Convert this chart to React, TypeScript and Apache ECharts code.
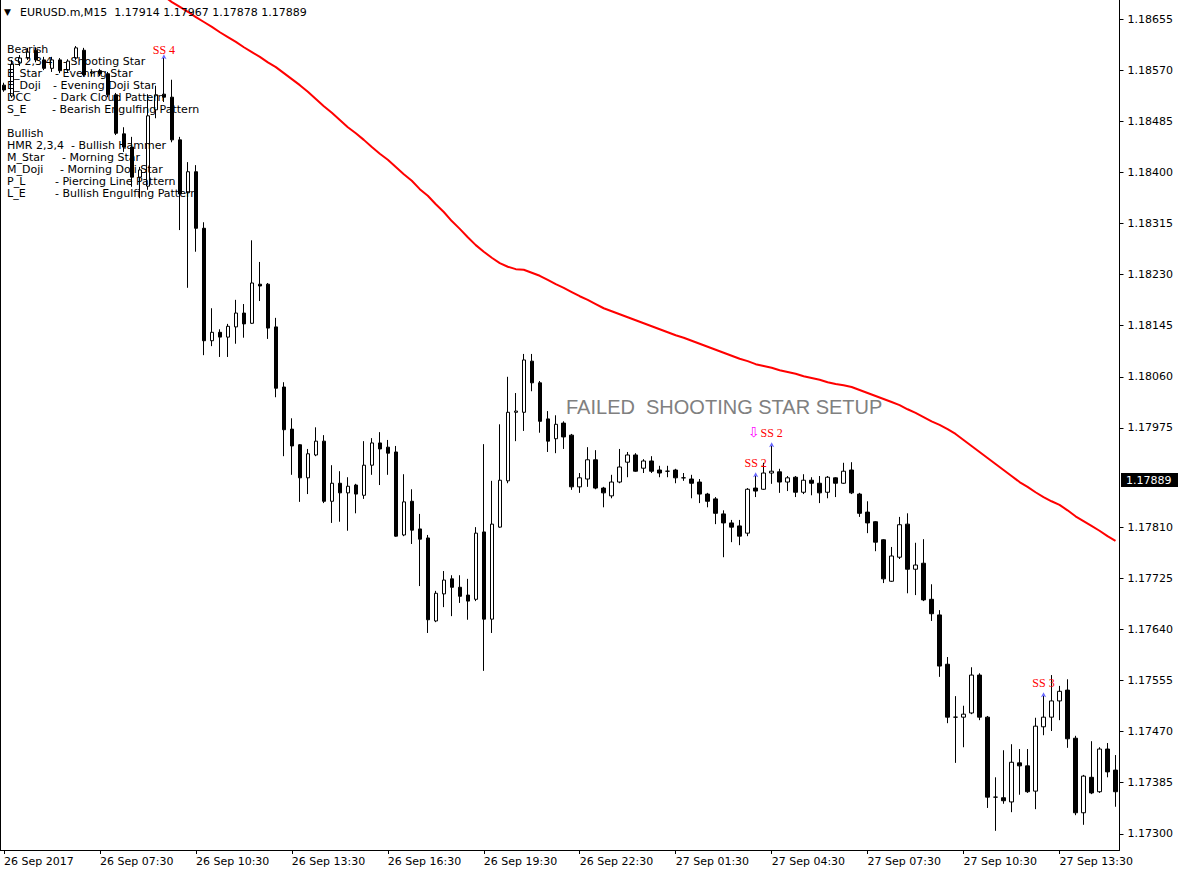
import React, { useEffect, useRef } from "react";
import * as echarts from "echarts";

// ---------- data (EURUSD.m, M15) ----------
const symbolName = "EURUSD.m,M15";
const headerValues = [1.17914, 1.17967, 1.17878, 1.17889];
const currentPrice = 1.17889;

const opens = [
  1.18545, 1.18527, 1.18582, 1.1859, 1.18603, 1.18587, 1.18573, 1.18587, 1.1857, 1.1859,
  1.18603, 1.18565, 1.18569, 1.18564, 1.18529, 1.18464, 1.18442, 1.18392, 1.18377, 1.18504,
  1.1853, 1.18525, 1.18454, 1.18366, 1.18401, 1.18307, 1.1812, 1.18134, 1.18126, 1.18143,
  1.18166, 1.18149, 1.18214, 1.18214, 1.18143, 1.18043, 1.17973, 1.17947, 1.17892, 1.1793,
  1.17953, 1.17853, 1.17883, 1.17867, 1.1788, 1.17863, 1.17913, 1.1795, 1.17943, 1.17935,
  1.17797, 1.17853, 1.17807, 1.17792, 1.17654, 1.17699, 1.17724, 1.1771, 1.17697, 1.1769,
  1.17802, 1.17657, 1.1781, 1.17887, 1.18001, 1.18001, 1.18086, 1.1805, 1.1799, 1.17957,
  1.17983, 1.17963, 1.17877, 1.1789, 1.17922, 1.17875, 1.17862, 1.17885, 1.17918, 1.1793,
  1.17908, 1.1792, 1.17905, 1.17903, 1.17905, 1.17892, 1.1789, 1.17885, 1.17865, 1.17857,
  1.17832, 1.17817, 1.17812, 1.178, 1.17875, 1.17873, 1.179, 1.17902, 1.17885, 1.17893,
  1.17868, 1.17888, 1.17883, 1.17868, 1.17892, 1.17883, 1.17905, 1.17865, 1.17835, 1.17819,
  1.17789, 1.1772, 1.1776, 1.17815, 1.1774, 1.1775, 1.1769, 1.17664, 1.17582, 1.17494,
  1.17494, 1.17501, 1.17564, 1.17494, 1.17361, 1.1736, 1.17353, 1.17418, 1.17413, 1.17371,
  1.17478, 1.17494, 1.17521, 1.17539, 1.17459, 1.17335, 1.17394, 1.1737, 1.17441, 1.17406,
];
const closes = [
  1.18537, 1.1858, 1.1859, 1.186, 1.18587, 1.18573, 1.18587, 1.18569, 1.18585, 1.18607,
  1.18562, 1.18567, 1.18564, 1.18529, 1.18465, 1.18442, 1.18392, 1.18404, 1.18494, 1.18529,
  1.18525, 1.18454, 1.18364, 1.18401, 1.18307, 1.1812, 1.18134, 1.18126, 1.18144, 1.18166,
  1.18148, 1.18216, 1.18211, 1.18141, 1.18041, 1.17972, 1.17945, 1.17892, 1.17932, 1.17953,
  1.17853, 1.17883, 1.17867, 1.17878, 1.17865, 1.17913, 1.1795, 1.1794, 1.17933, 1.17795,
  1.17852, 1.17805, 1.1779, 1.17656, 1.177, 1.17722, 1.1771, 1.17695, 1.17687, 1.178,
  1.17657, 1.17815, 1.17888, 1.18001, 1.18003, 1.18088, 1.1805, 1.17986, 1.17953, 1.17981,
  1.1796, 1.17877, 1.17892, 1.17922, 1.17875, 1.17867, 1.17885, 1.1791, 1.1793, 1.17903,
  1.1792, 1.17903, 1.179, 1.17903, 1.17892, 1.17892, 1.17883, 1.17865, 1.17853, 1.17833,
  1.17817, 1.1781, 1.17795, 1.17873, 1.1787, 1.179, 1.17903, 1.17885, 1.17892, 1.17868,
  1.17888, 1.17883, 1.17867, 1.17893, 1.17883, 1.17903, 1.17867, 1.17833, 1.17817, 1.17785,
  1.17724, 1.17762, 1.17814, 1.1774, 1.17747, 1.17689, 1.17666, 1.17579, 1.17494, 1.17494,
  1.17499, 1.17564, 1.17494, 1.17361, 1.17361, 1.17355, 1.17419, 1.17413, 1.1737, 1.17479,
  1.17494, 1.17521, 1.17537, 1.17458, 1.17335, 1.17396, 1.17368, 1.17441, 1.17403, 1.1737,
];
const highs = [
  1.18549, 1.18587, 1.18595, 1.18607, 1.18608, 1.18592, 1.18592, 1.1859, 1.18588, 1.1861,
  1.18607, 1.1857, 1.18572, 1.18567, 1.18532, 1.18475, 1.18459, 1.18409, 1.1853, 1.18544,
  1.18593, 1.18554, 1.18459, 1.18417, 1.18412, 1.18317, 1.18174, 1.18139, 1.18148, 1.18188,
  1.18181, 1.18287, 1.18251, 1.18216, 1.18158, 1.18051, 1.17991, 1.17948, 1.1794, 1.17976,
  1.17963, 1.17913, 1.17903, 1.17893, 1.17882, 1.17953, 1.17958, 1.17968, 1.17955, 1.17945,
  1.17898, 1.17873, 1.17832, 1.17797, 1.17704, 1.17737, 1.1773, 1.1773, 1.17724, 1.1781,
  1.17948, 1.17887, 1.17981, 1.1806, 1.18033, 1.18098, 1.18098, 1.18053, 1.18003, 1.17996,
  1.17986, 1.17965, 1.179, 1.17943, 1.17938, 1.17877, 1.17897, 1.1794, 1.17935, 1.17933,
  1.17923, 1.17928, 1.17912, 1.17912, 1.17907, 1.179, 1.17897, 1.1789, 1.17867, 1.1786,
  1.17838, 1.17822, 1.17822, 1.17875, 1.17898, 1.17917, 1.17948, 1.17907, 1.17895, 1.17895,
  1.17898, 1.17893, 1.17895, 1.17895, 1.17893, 1.17917, 1.17918, 1.17867, 1.17853, 1.1782,
  1.1779, 1.17777, 1.17827, 1.17833, 1.17784, 1.1779, 1.17715, 1.17672, 1.17594, 1.17529,
  1.17513, 1.17577, 1.17567, 1.17496, 1.17394, 1.17439, 1.17449, 1.17441, 1.17441, 1.17493,
  1.17532, 1.17564, 1.17546, 1.17557, 1.17463, 1.17398, 1.17454, 1.17444, 1.17451, 1.17431,
];
const lows = [
  1.18534, 1.18524, 1.18577, 1.18587, 1.18583, 1.1857, 1.18567, 1.18565, 1.18567, 1.18587,
  1.18559, 1.1856, 1.1856, 1.18525, 1.18462, 1.18434, 1.18376, 1.18357, 1.18371, 1.1849,
  1.18517, 1.1845, 1.18304, 1.18208, 1.18268, 1.18096, 1.18111, 1.18093, 1.18093, 1.18115,
  1.18125, 1.18148, 1.18186, 1.18123, 1.18026, 1.17928, 1.17897, 1.17852, 1.17865, 1.17928,
  1.1785, 1.17817, 1.17819, 1.17804, 1.17833, 1.17857, 1.17897, 1.1788, 1.17897, 1.17794,
  1.17795, 1.17782, 1.17712, 1.17634, 1.17652, 1.17677, 1.17662, 1.17684, 1.17656, 1.17687,
  1.17571, 1.17634, 1.17809, 1.17883, 1.17953, 1.1797, 1.18036, 1.17967, 1.17935, 1.17933,
  1.1794, 1.17872, 1.17867, 1.17877, 1.17873, 1.17843, 1.17858, 1.17883, 1.17893, 1.17902,
  1.179, 1.179, 1.17893, 1.17893, 1.17883, 1.17887, 1.17858, 1.1785, 1.17843, 1.17815,
  1.1776, 1.17785, 1.1778, 1.17795, 1.1786, 1.17872, 1.17882, 1.17867, 1.1787, 1.1786,
  1.17865, 1.17863, 1.1785, 1.17858, 1.1786, 1.17882, 1.17865, 1.17827, 1.178, 1.1777,
  1.17717, 1.17719, 1.17757, 1.177, 1.17697, 1.17687, 1.17654, 1.17561, 1.17484, 1.17418,
  1.17444, 1.17499, 1.17489, 1.17343, 1.17305, 1.1735, 1.17336, 1.17365, 1.17368, 1.17341,
  1.17464, 1.17471, 1.17489, 1.17443, 1.17331, 1.17315, 1.17366, 1.17368, 1.17394, 1.17345,
];
// moving average (red line); null where it is above the visible window
const movingAverage = [
  null, null, null, null, null, null, null, null, null, null,
  null, null, null, null, null, null, null, null, null, null,
  1.18693, 1.18683, 1.18675, 1.18667, 1.18658, 1.1865, 1.18642, 1.18633, 1.18625, 1.18617,
  1.18608, 1.186, 1.18592, 1.18583, 1.18575, 1.18565, 1.18555, 1.18545, 1.18534, 1.18522,
  1.1851, 1.18499, 1.18487, 1.18475, 1.18465, 1.18454, 1.18442, 1.18431, 1.18421, 1.18409,
  1.18397, 1.18386, 1.18372, 1.18361, 1.18347, 1.18334, 1.18319, 1.18306, 1.18292, 1.18279,
  1.18268, 1.18258, 1.18249, 1.18243, 1.18239, 1.18238, 1.18233, 1.18228, 1.18221, 1.18214,
  1.18208, 1.18201, 1.18194, 1.18188, 1.18181, 1.18174, 1.18169, 1.18164, 1.18159, 1.18154,
  1.18149, 1.18144, 1.18139, 1.18134, 1.18129, 1.18125, 1.1812, 1.18115, 1.1811, 1.18105,
  1.181, 1.18095, 1.1809, 1.18086, 1.18081, 1.18078, 1.18075, 1.18071, 1.18068, 1.18065,
  1.18061, 1.18058, 1.18055, 1.18051, 1.18048, 1.18046, 1.18043, 1.18038, 1.18033, 1.18028,
  1.18023, 1.18018, 1.18013, 1.18006, 1.18, 1.17993, 1.17986, 1.1798, 1.17973, 1.17965,
  1.17955, 1.17945, 1.17935, 1.17925, 1.17915, 1.17905, 1.17895, 1.17885, 1.17877, 1.17868,
  1.1786, 1.17853, 1.17847, 1.17838, 1.17828, 1.1782, 1.17812, 1.17804, 1.17795, 1.17787,
];

const priceTicks = [
  1.173, 1.17385, 1.1747, 1.17555, 1.1764, 1.17725, 1.1781, 1.17975,
  1.1806, 1.18145, 1.1823, 1.18315, 1.184, 1.18485, 1.1857, 1.18655,
];
const timeTickLabels = [
  "26 Sep 2017", "26 Sep 07:30", "26 Sep 10:30", "26 Sep 13:30", "26 Sep 16:30", "26 Sep 19:30",
  "26 Sep 22:30", "27 Sep 01:30", "27 Sep 04:30", "27 Sep 07:30", "27 Sep 10:30", "27 Sep 13:30",
];
const barsPerTimeTick = 12;

// pattern marks: bar index, price at which the text sits, text
const patternIdx = [20, 94, 96, 130];
const patternPrice = [1.18603, 1.17917, 1.17967, 1.17551];
const patternText = ["SS 4", "SS 2", "SS 2", "SS 3"];
const arrowIdx = 94;
const arrowPrice = 1.17968;

const legendKeys = [
  "Bearish", "SS 2,3,4", "E_Star", "E_Doji", "DCC", "S_E", "",
  "Bullish", "HMR 2,3,4", "M_Star", "M_Doji", "P_L", "L_E",
];
const legendDescs = [
  "", "- Shooting Star", "- Evening Star", "- Evening Doji Star", "- Dark Cloud Pattern",
  "- Bearish Engulfing Pattern", "", "", "- Bullish Hammer", "- Morning Star",
  "- Morning Doji Star", "- Piercing Line Pattern", "- Bullish Engulfing Pattern",
];
const overlayTitle = "FAILED  SHOOTING STAR SETUP";

// ---------- layout / style ----------
const legendDescX = [0, 63, 55, 53, 53, 52, 0, 0, 71, 62, 60, 55, 55];
const Y_MIN = 1.172731;
const Y_MAX = 1.186866;
const FONT = '"DejaVu Sans", Verdana, sans-serif';

// categories: one per M15 bar starting 26 Sep 2017 04:30
const categories: string[] = (() => {
  const out: string[] = [];
  const start = Date.UTC(2017, 8, 26, 4, 30);
  for (let i = 0; i < opens.length; i++) {
    const d = new Date(start + i * 15 * 60000);
    const hh = String(d.getUTCHours()).padStart(2, "0");
    const mm = String(d.getUTCMinutes()).padStart(2, "0");
    out.push(`${d.getUTCDate()} Sep ${hh}:${mm}`);
  }
  return out;
})();

export default function App() {
  const ref = useRef<HTMLDivElement>(null);

  useEffect(() => {
    if (!ref.current) return;
    const chart = echarts.init(ref.current, undefined, { renderer: "svg" });

    const candleData = opens.map((o, i) => [o, closes[i], lows[i], highs[i]]);

    const graphics: any[] = [];
    graphics.push({
      id: "frameLeft",
      type: "line",
      shape: { x1: 0.5, y1: 0, x2: 0.5, y2: 850 },
      style: { stroke: "#000", lineWidth: 1 },
      silent: true,
    });
    graphics.push({
      id: "hdrTri",
      type: "text",
      x: 4,
      y: 12,
      style: { text: "▼", fill: "#000", font: `9px ${FONT}`, verticalAlign: "middle" },
      z: 100,
    });
    graphics.push({
      id: "hdrText",
      type: "text",
      x: 20,
      y: 12,
      style: {
        text: `${symbolName}  ${headerValues.map((v) => v.toFixed(5)).join(" ")}`,
        fill: "#000",
        font: `11px ${FONT}`,
        verticalAlign: "middle",
      },
      z: 100,
    });
    legendKeys.forEach((k, i) => {
      const y = 49 + i * 12;
      if (k) {
        graphics.push({
          id: "lk" + i,
          type: "text",
          x: 7,
          y,
          style: { text: k, fill: "#000", font: `11px ${FONT}`, verticalAlign: "middle" },
          z: 100,
        });
      }
      if (legendDescs[i]) {
        graphics.push({
          id: "ld" + i,
          type: "text",
          x: legendDescX[i],
          y,
          style: { text: legendDescs[i], fill: "#000", font: `11px ${FONT}`, verticalAlign: "middle" },
          z: 100,
        });
      }
    });
    graphics.push({
      id: "title",
      type: "text",
      x: 566,
      y: 407,
      style: {
        text: overlayTitle,
        fill: "#808080",
        font: `20px "Liberation Sans", Arial, sans-serif`,
        verticalAlign: "middle",
      },
      z: 100,
    });

    const markPoints: any[] = patternIdx.map((idx, k) => ({
      coord: [categories[idx], patternPrice[k]],
      value: patternText[k],
      symbolSize: 1,
      itemStyle: { color: "rgba(0,0,0,0)" },
      label: {
        show: true,
        position: "inside",
        formatter: patternText[k],
        color: "#ff0000",
        fontFamily: '"Liberation Serif", "Times New Roman", serif',
        fontSize: 12,
      },
    }));
    // small blue pointers at the highs of the marked bars
    patternIdx.forEach((idx) => {
      markPoints.push({
        coord: [categories[idx], highs[idx]],
        symbol: "arrow",
        symbolSize: [4, 5],
        symbolOffset: [0, -2],
        itemStyle: { color: "#6b6bff" },
        label: { show: false },
      });
    });
    markPoints.push({
      coord: [categories[arrowIdx], arrowPrice],
      value: "⇩",
      symbolSize: 1,
      itemStyle: { color: "rgba(0,0,0,0)" },
      label: {
        show: true,
        position: "inside",
        formatter: "⇩",
        color: "#ff00ff",
        fontFamily: FONT,
        fontSize: 14,
        offset: [-2, 0],
      },
    });

    chart.setOption({
      animation: false,
      backgroundColor: "#ffffff",
      grid: { left: -0.5, right: 60.5, top: 0, bottom: 26, containLabel: false },
      xAxis: [
        {
          type: "category",
          data: categories,
          boundaryGap: true,
          axisLine: { show: true, onZero: false, lineStyle: { color: "#000", width: 1 } },
          axisTick: {
            show: true,
            alignWithLabel: true,
            length: 4,
            interval: (i: number) => i % barsPerTimeTick === 0,
            lineStyle: { color: "#000" },
          },
          axisLabel: {
            show: true,
            interval: (i: number) => i % barsPerTimeTick === 0,
            formatter: (_v: string, i: number) => timeTickLabels[Math.round(i / barsPerTimeTick)] ?? "",
            align: "left",
            margin: 6,
            color: "#000",
            fontFamily: FONT,
            fontSize: 11,
          },
          splitLine: { show: false },
        },
      ],
      yAxis: [
        {
          type: "value",
          position: "right",
          min: Y_MIN,
          max: Y_MAX,
          scale: true,
          axisLine: { show: true, onZero: false, lineStyle: { color: "#000", width: 1 } },
          axisTick: { show: true, length: 4, customValues: priceTicks, lineStyle: { color: "#000" } },
          axisLabel: {
            show: true,
            customValues: priceTicks,
            formatter: (v: number) => v.toFixed(5),
            margin: 8,
            color: "#000",
            fontFamily: FONT,
            fontSize: 11,
          },
          splitLine: { show: false },
        },
      ],
      series: [
        {
          type: "candlestick",
          data: candleData,
          barWidth: 4,
          itemStyle: {
            color: "#ffffff",
            color0: "#000000",
            borderColor: "#000000",
            borderColor0: "#000000",
            borderColorDoji: "#000000",
            borderWidth: 1,
          },
          markPoint: {
            symbol: "rect",
            silent: true,
            data: markPoints,
          },
          z: 3,
        },
        {
          type: "line",
          data: movingAverage,
          symbol: "none",
          showSymbol: false,
          connectNulls: false,
          lineStyle: { color: "#ff0000", width: 2 },
          itemStyle: { color: "#ff0000" },
          clip: true,
          z: 2,
        },
      ],
      graphic: graphics,
    });

    // current-price box on the price axis, positioned through the y scale
    const py = chart.convertToPixel({ yAxisIndex: 0 }, currentPrice) as number;
    chart.setOption({
      graphic: [
        {
          id: "curBox",
          type: "rect",
          shape: { x: 1121, y: Math.round(py) - 7, width: 57, height: 14 },
          style: { fill: "#000" },
          z: 100,
        },
        {
          id: "curText",
          type: "text",
          x: 1126,
          y: Math.round(py),
          style: {
            text: currentPrice.toFixed(5),
            fill: "#fff",
            font: `11px ${FONT}`,
            verticalAlign: "middle",
          },
          z: 101,
        },
      ],
    });

    return () => chart.dispose();
  }, []);

  return (
    <div
      ref={ref}
      style={{ position: "fixed", left: 0, top: 0, width: 1180, height: 876, background: "#fff" }}
    />
  );
}
